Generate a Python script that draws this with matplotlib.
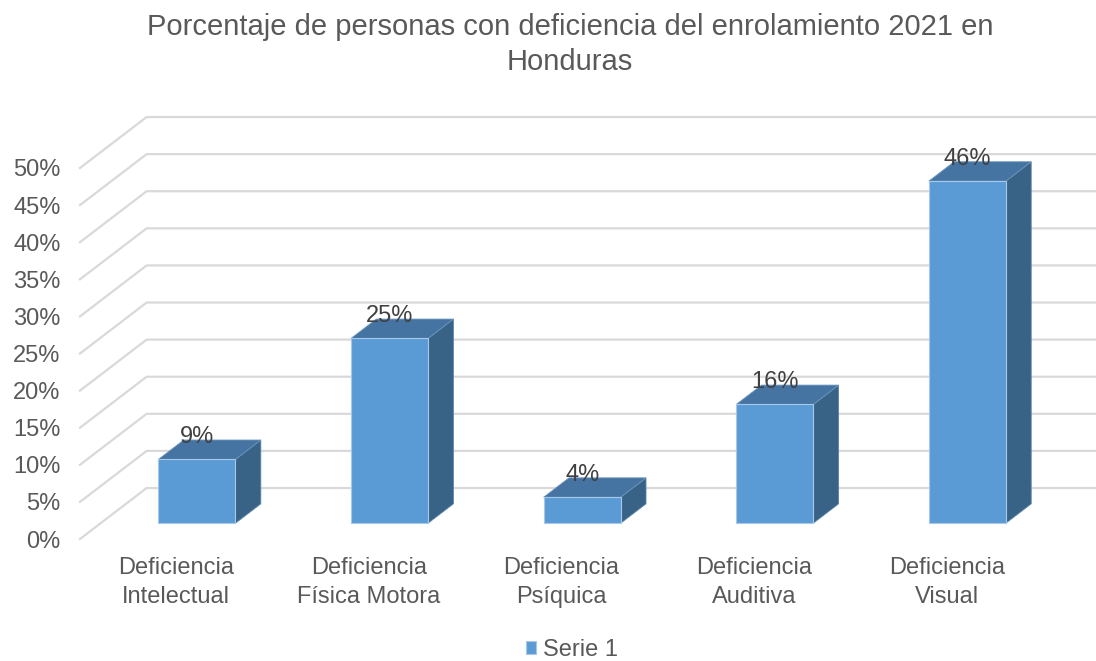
import matplotlib
matplotlib.use("Agg")
import matplotlib.pyplot as plt
from matplotlib.patches import Polygon

plt.rcParams['font.family'] = ['Liberation Sans', 'DejaVu Sans']

categories = ["Deficiencia\nIntelectual", "Deficiencia\nFísica Motora", "Deficiencia\nPsíquica",
              "Deficiencia\nAuditiva", "Deficiencia\nVisual"]
values = [8.6, 24.9, 3.5, 16.0, 46.1]
value_labels = ["9%", "25%", "4%", "16%", "46%"]
y_ticks = [0, 5, 10, 15, 20, 25, 30, 35, 40, 45, 50]
series_name = "Serie 1"
title = "Porcentaje de personas con deficiencia del enrolamiento 2021 en\nHonduras"

# oblique "3D" look: full depth of the floor, in data units
DX = 0.346   # category units
DY = 6.87    # percent units
d0, d1 = 0.31, 0.69   # bar depth range
hw = 0.2              # half bar width

front_col = "#5B9BD5"
top_col = "#4674A2"
side_col = "#386387"
grid_col = "#D9D9D9"
text_col = "#595959"


def P(x, y, d):
    return (x + d * DX, y + d * DY)


fig = plt.figure(figsize=(10.96, 6.61), dpi=100)
ax = fig.add_axes([80 / 1096, (661 - 539) / 661, 1 - 80 / 1096, (539 - 100) / 661])
ax.set_xlim(-0.5, -0.5 + (1096 - 80) / 192.6)
ax.set_ylim(0, (539 - 100) / 7.42)
for s in ax.spines.values():
    s.set_visible(False)

# grid: diagonal on the side wall + horizontal on the back wall
x_right = len(categories) - 0.5
for g in y_ticks:
    xs = [-0.5, -0.5 + DX, x_right + DX]
    ys = [g, g + DY, g + DY]
    ax.plot(xs, ys, color=grid_col, lw=1.6, clip_on=False, zorder=1)

front_patch = None
for i, v in enumerate(values):
    front = [P(i - hw, 0, d0), P(i + hw, 0, d0), P(i + hw, v, d0), P(i - hw, v, d0)]
    top = [P(i - hw, v, d0), P(i + hw, v, d0), P(i + hw, v, d1), P(i - hw, v, d1)]
    side = [P(i + hw, 0, d0), P(i + hw, 0, d1), P(i + hw, v, d1), P(i + hw, v, d0)]
    ax.add_patch(Polygon(side, closed=True, fc=side_col, ec="#5A84AA", lw=0.6, zorder=3, clip_on=False))
    ax.add_patch(Polygon(top, closed=True, fc=top_col, ec="#6A94BC", lw=0.6, zorder=3, clip_on=False))
    p = Polygon(front, closed=True, fc=front_col, ec="#A8C8E8", lw=0.8, zorder=4, clip_on=False,
                label=series_name)
    ax.add_patch(p)
    if front_patch is None:
        front_patch = p
    ax.text(i + d0 * DX, v + d1 * DY + 0.4, value_labels[i], ha="center", va="center",
            fontsize=17, color="#404040", zorder=5)

ax.set_yticks(y_ticks)
ax.set_yticklabels([f"{t}%" for t in y_ticks])
ax.set_xticks(range(len(categories)))
ax.set_xticklabels(categories, linespacing=1.4)
ax.tick_params(axis="y", length=0, pad=14, labelsize=17, labelcolor=text_col)
ax.tick_params(axis="x", length=0, pad=13, labelsize=17, labelcolor=text_col)

fig.text(570 / 1096, 1 - 13 / 661, title, ha="center", va="top", fontsize=21,
         color=text_col, linespacing=1.3)

fig.legend(handles=[front_patch], labels=[series_name], loc="center",
           bbox_to_anchor=(572 / 1096, 1 - 650 / 661), frameon=False, fontsize=17,
           handlelength=0.45, handleheight=0.45, handletextpad=0.3, labelcolor=text_col)

fig.savefig("out.png", dpi=100)
